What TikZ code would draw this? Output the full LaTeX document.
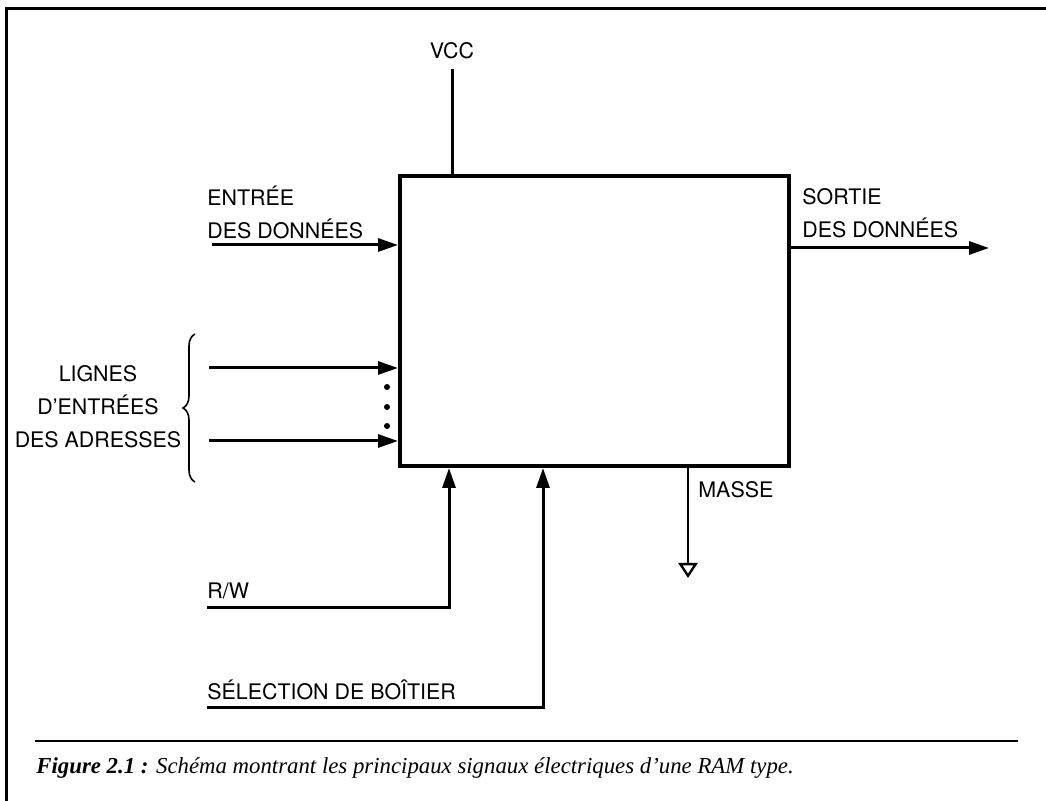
\documentclass[tikz,border=0pt]{standalone}
\usepackage{fontspec}
\setmainfont{TeX Gyre Heros}
\newfontfamily\capfont{Liberation Serif}
\usetikzlibrary{positioning, arrows.meta, decorations.pathreplacing, calc}

\begin{document}
\begin{tikzpicture}[
    x=0.5pt, y=-0.5pt,
    font=\fontsize{10.7}{16.5}\selectfont,
    frameline/.style={line width=1.5pt},
    chip/.style={draw, line width=2pt, minimum width=194.5pt, minimum height=145pt, inner sep=0pt},
    signal/.style={line width=1.5pt, -{Triangle[length=10pt, width=6.5pt]}},
    wire/.style={line width=1.5pt},
    ground/.style={line width=1.3pt, -{Triangle[open, length=7.5pt, width=9.5pt, line width=1.2pt]}},
    label/.style={inner sep=0pt, anchor=west, align=left},
]
    \useasboundingbox (0,0) rectangle (1046,801);

    % Outer frame (top and left edges only)
    \draw[frameline] (6,801) -- (6,9) -- (1046,9);

    % The memory chip
    \node[chip] (ram) at (594.5,321) {};

    % Supply
    \node[inner sep=0pt] (vcc) at (452,51) {VCC};
    \coordinate (vcctop) at (452,69);
    \draw[wire] (vcctop) -- (vcctop |- ram.north);

    % Data input
    \node[label] (entree) at (207,212) {ENTRÉE\\DES DONNÉES};
    \coordinate (din) at (212,245);
    \draw[signal] (din) -- (din -| ram.west);

    % Data output
    \node[label] (sortie) at (802,213) {SORTIE\\DES DONNÉES};
    \coordinate (dout) at (989,248);
    \draw[signal] (dout -| ram.east) -- (dout);

    % Address lines
    \node[inner sep=0pt, align=center] (adr) at (98,407) {LIGNES\\D'ENTRÉES\\DES ADRESSES};
    \coordinate (a1) at (209,368);
    \coordinate (a2) at (209,441);
    \draw[signal] (a1) -- (a1 -| ram.west);
    \draw[signal] (a2) -- (a2 -| ram.west);
    \foreach \y in {387,407,426}
        \fill (387,\y) circle (1.5pt);
    \draw[line width=0.8pt, decorate, decoration={brace, amplitude=6pt}] (195,482) -- (195,334);

    % Read / write
    \node[label] (rw) at (207,591) {R/W};
    \coordinate (rwin) at (207,608);
    \coordinate (rwup) at (449,608);
    \draw[signal] (rwin) -- (rwup) -- (rwup |- ram.south);

    % Chip select
    \node[label] (sel) at (207,690) {SÉLECTION DE BOÎTIER};
    \coordinate (csin) at (207,708);
    \coordinate (csup) at (543,708);
    \draw[signal] (csin) -- (csup) -- (csup |- ram.south);

    % Ground
    \coordinate (gnd) at (688,578);
    \draw[ground] (gnd |- ram.south) -- (gnd);
    \node[label] (masse) at (698,490) {MASSE};

    % Caption
    \draw[line width=1pt] (35,741) -- (1018,741);
    \node[inner sep=0pt, anchor=west, font=\capfont\fontsize{11.4}{13}\selectfont\itshape] (caption) at (36,768)
        {\textbf{Figure 2.1 :} Schéma montrant les principaux signaux électriques d’une RAM type.};
\end{tikzpicture}
\end{document}
